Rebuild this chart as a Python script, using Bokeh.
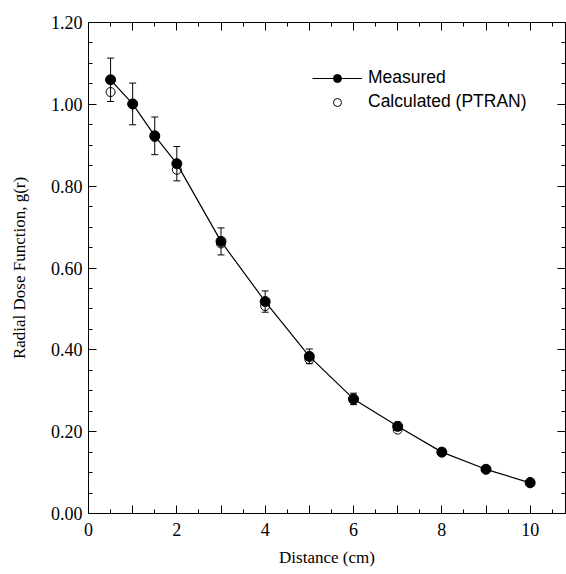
from bokeh.plotting import figure
from bokeh.models import (LinearAxis, FixedTicker, Whisker, ColumnDataSource, Legend,
                          LegendItem, NumeralTickFormatter, CustomJSTickFormatter, Range1d, TeeHead)
from bokeh.embed import file_html
from bokeh.resources import INLINE

# Data
distance = [0.5, 1, 1.5, 2, 3, 4, 5, 6, 7, 8, 9, 10]
measured = [1.060, 1.001, 0.923, 0.855, 0.665, 0.518, 0.384, 0.280, 0.213, 0.150, 0.108, 0.075]
measured_err = [0.053, 0.051, 0.046, 0.042, 0.033, 0.026, 0.018, 0.014, 0.010, 0.007, 0.005, 0.004]
calculated = [1.030, 1.000, 0.920, 0.840, 0.660, 0.507, 0.377, 0.278, 0.205, 0.150, 0.108, 0.077]

x_major = [0, 1, 2, 3, 4, 5, 6, 7, 8, 9, 10]
x_minor = [0.5, 1.5, 2.5, 3.5, 4.5, 5.5, 6.5, 7.5, 8.5, 9.5, 10.5]
x_labels = {0: "0", 1: "", 2: "2", 3: "", 4: "4", 5: "", 6: "6", 7: "", 8: "8", 9: "", 10: "10"}
y_major = [0.0, 0.2, 0.4, 0.6, 0.8, 1.0, 1.2]
y_minor = [0.05, 0.10, 0.15, 0.25, 0.30, 0.35, 0.45, 0.50, 0.55, 0.65, 0.70, 0.75,
           0.85, 0.90, 0.95, 1.05, 1.10, 1.15]

SERIF = "Liberation Serif"
SANS = "Liberation Sans"

src = ColumnDataSource(dict(
    x=distance, y=measured, calc=calculated,
    upper=[m + e for m, e in zip(measured, measured_err)],
    lower=[m - e for m, e in zip(measured, measured_err)],
))

p = figure(width=566, height=574, output_backend="svg", toolbar_location=None,
           x_range=Range1d(0, 10.8), y_range=Range1d(0, 1.2),
           min_border_left=88, min_border_right=1, min_border_top=22, min_border_bottom=61)
p.grid.visible = False
p.outline_line_color = "black"
p.background_fill_color = "white"
p.border_fill_color = "white"

xt = FixedTicker(ticks=x_major, minor_ticks=x_minor)
yt = FixedTicker(ticks=y_major, minor_ticks=y_minor)

def style(ax):
    ax.axis_line_color = "black"
    ax.major_tick_line_color = "black"
    ax.minor_tick_line_color = "black"
    ax.major_tick_in = 8
    ax.major_tick_out = 0
    ax.minor_tick_in = 4
    ax.minor_tick_out = 0
    ax.major_label_text_font = SERIF
    ax.major_label_text_font_size = "18px"
    ax.major_label_text_color = "black"
    ax.axis_label_text_font = SERIF
    ax.axis_label_text_font_size = "17px"
    ax.axis_label_text_font_style = "normal"
    ax.axis_label_text_color = "black"

xa = p.xaxis[0]
xa.ticker = xt
xa.major_label_overrides = x_labels
xa.axis_label = "Distance (cm)"
xa.major_label_standoff = 9
xa.axis_label_standoff = 9
style(xa)

ya = p.yaxis[0]
ya.ticker = yt
ya.formatter = NumeralTickFormatter(format="0.00")
ya.axis_label = "Radial Dose Function, g(r)"
ya.major_label_standoff = 6
ya.axis_label_standoff = 19
style(ya)

empty = CustomJSTickFormatter(code="return ''")
top = LinearAxis(ticker=xt, formatter=empty, major_label_standoff=0)
style(top)
top.major_label_text_font_size = "1px"
p.add_layout(top, "above")
right = LinearAxis(ticker=yt, formatter=empty, major_label_standoff=0)
style(right)
right.major_label_text_font_size = "1px"
p.add_layout(right, "right")

calc_r = p.scatter("x", "calc", source=src, size=9, marker="circle",
                   fill_color=None, line_color="black", line_width=1)
p.add_layout(Whisker(source=src, base="x", upper="upper", lower="lower",
                     line_color="black", line_width=1,
                     upper_head=TeeHead(size=7, line_color="black", line_width=1),
                     lower_head=TeeHead(size=7, line_color="black", line_width=1)))
line_r = p.line("x", "y", source=src, line_color="black", line_width=1.2)
meas_r = p.scatter("x", "y", source=src, size=10, marker="circle",
                   fill_color="black", line_color="black")

legend = Legend(items=[LegendItem(label="Measured", renderers=[line_r, meas_r]),
                       LegendItem(label="Calculated (PTRAN)", renderers=[calc_r])],
                location=(224, 401), glyph_width=50, glyph_height=20, spacing=3,
                padding=0, margin=0, label_standoff=6, border_line_color=None,
                background_fill_alpha=0, label_text_font=SANS,
                label_text_font_size="17.5px", label_text_color="black")
p.add_layout(legend)

open("out.html", "w").write(file_html(p, INLINE))
